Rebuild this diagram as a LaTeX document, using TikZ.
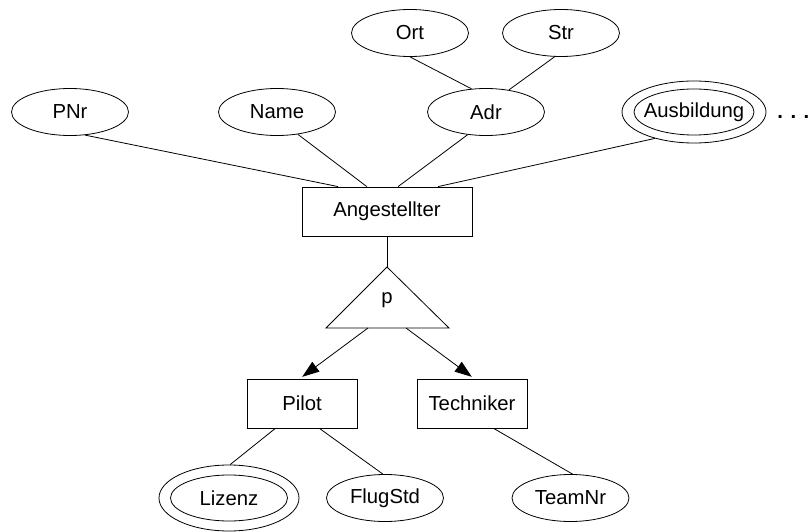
\documentclass[tikz,border=0pt]{standalone}
\usepackage{fontspec}
\setmainfont{Liberation Sans}
\usetikzlibrary{shapes.geometric, arrows.meta}

\begin{document}
\begin{tikzpicture}[x=1pt, y=-1pt, line width=0.8pt,
  font=\fontsize{20.3}{24}\selectfont,
  attr/.style={draw, ellipse, minimum width=117pt, minimum height=47pt, inner sep=0pt},
  multi/.style={draw, ellipse, minimum width=142pt, minimum height=64pt, inner sep=0pt},
  ent/.style={draw, rectangle, minimum width=110pt, minimum height=49pt, inner sep=0pt},
  isa/.style={-{Triangle[length=17pt, width=12pt]}, shorten >=3pt}]
  \useasboundingbox (0,0) rectangle (809,532);

  % Entity Angestellter and its attributes
  \node[ent, minimum width=170pt] (ang) at (387,211.5) {Angestellter};
  \node[attr] (pnr) at (70,112) {PNr};
  \node[attr] (name) at (277,112) {Name};
  \node[attr] (adr) at (486,112) {Adr};
  \node[multi, minimum width=144pt, minimum height=62pt] (ausb) at (694,112) {};
  \draw (ausb.center) ellipse (60 and 23);
  \node at (ausb.center) {Ausbildung};
  \node[anchor=base west, inner sep=0pt] (more) at (777,119) {\textbf{. . .}};

  % Composite attribute Adr
  \node[attr] (ort) at (410,33) {Ort};
  \node[attr] (str) at (561,33) {Str};

  \draw (pnr.-57) -- (ang.153);
  \draw (name.-47) -- (ang.129);
  \draw (adr.-129) -- (ang.66);
  \draw (ausb.-146) -- (ang.26);
  \draw (ort.south) -- (adr.122);
  \draw (str.-105) -- (adr.44);

  % Specialisation triangle
  \coordinate (top) at (387,267);
  \coordinate (bl) at (326,328);
  \coordinate (br) at (449,328);
  \draw (top) -- (bl) -- (br) -- cycle;
  \node (p) at (387,300) {p};
  \draw (ang.south) -- (top);
  \coordinate (pl) at (368,328);
  \coordinate (pr) at (406,328);

  % Subclasses
  \node[ent] (pilot) at (302,403.5) {Pilot};
  \node[ent] (tech) at (472,403.5) {Techniker};
  \draw[isa] (pl) -- (pilot.95);
  \draw[isa] (pr) -- (tech.85);

  % Attributes of the subclasses
  \node[multi, minimum width=140pt, minimum height=66pt] (lizenz) at (229,498) {};
  \draw (lizenz.center) ellipse (58.5 and 23);
  \node at (lizenz.center) {Lizenz};
  \node[attr] (flug) at (385,498) {FlugStd};
  \node[attr] (team) at (570.5,498) {TeamNr};

  \draw (pilot.-137) -- (lizenz.88);
  \draw (pilot.-55) -- (flug.95);
  \draw (tech.-49) -- (team.85);
\end{tikzpicture}
\end{document}
